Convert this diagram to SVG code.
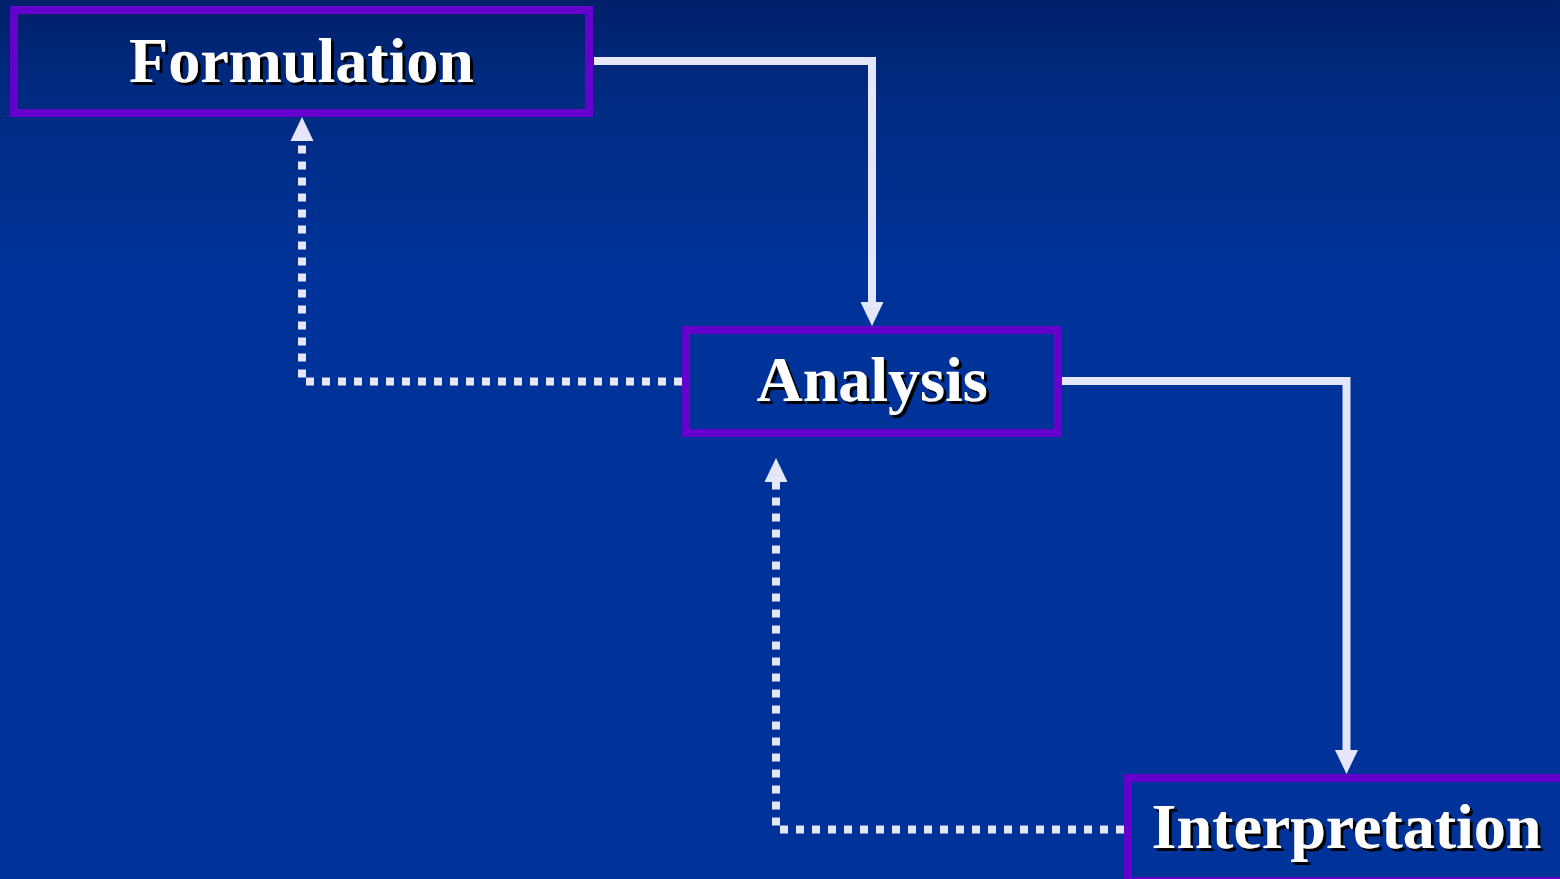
<svg xmlns="http://www.w3.org/2000/svg" width="1560" height="879" viewBox="0 0 1560 879">
  <defs>
    <linearGradient id="bg" x1="0" y1="0" x2="0" y2="1">
      <stop offset="0" stop-color="#00206A"/>
      <stop offset="0.1" stop-color="#002A80"/>
      <stop offset="0.3" stop-color="#003399"/>
      <stop offset="1" stop-color="#003399"/>
    </linearGradient>
    <filter id="shadow" x="-10%" y="-20%" width="120%" height="150%">
      <feOffset in="SourceAlpha" dx="3" dy="3" result="off"/>
      <feFlood flood-color="#000000"/>
      <feComposite in2="off" operator="in" result="sh"/>
      <feMerge>
        <feMergeNode in="sh"/>
        <feMergeNode in="SourceGraphic"/>
      </feMerge>
    </filter>
  </defs>
  <style>
    .box { fill: none; stroke: #6600CC; stroke-width: 8; }
    .label { font-family: "Liberation Serif", "Times New Roman", serif; font-weight: bold; font-size: 64px; fill: #FFFFFF; text-anchor: middle; filter: url(#shadow); }
    .solid { fill: none; stroke: #E6E6FA; stroke-width: 8; stroke-linejoin: miter; stroke-linecap: butt; }
    .dotted { fill: none; stroke: #E6E6FA; stroke-width: 8; stroke-dasharray: 8 8; stroke-linejoin: miter; stroke-linecap: butt; }
    .head { fill: #E6E6FA; }
  </style>
  <rect x="0" y="0" width="1560" height="879" fill="url(#bg)"/>

  <g id="connectors">
    <path class="solid" d="M594,61 H872 V303"/>
    <polygon class="head" points="860.5,302 883.5,302 872,326"/>
    <path class="solid" d="M1062,381 H1346.5 V751"/>
    <polygon class="head" points="1335,750 1358,750 1346.5,774"/>
    <path class="dotted" d="M682,381.5 H302 V141"/>
    <polygon class="head" points="290.5,141 313.5,141 302,117"/>
    <path class="dotted" d="M1124,829.5 H776 V482"/>
    <polygon class="head" points="764.5,482 787.5,482 776,458"/>
  </g>

  <g id="formulation">
    <rect class="box" x="14" y="10" width="575" height="103"/>
    <text class="label" x="301.5" y="82">Formulation</text>
  </g>

  <g id="analysis">
    <rect class="box" x="686" y="330" width="372" height="103"/>
    <text class="label" x="872" y="401">Analysis</text>
  </g>

  <g id="interpretation">
    <rect class="box" x="1128" y="778" width="500" height="103"/>
    <text class="label" x="1346.5" y="848">Interpretation</text>
  </g>
</svg>
